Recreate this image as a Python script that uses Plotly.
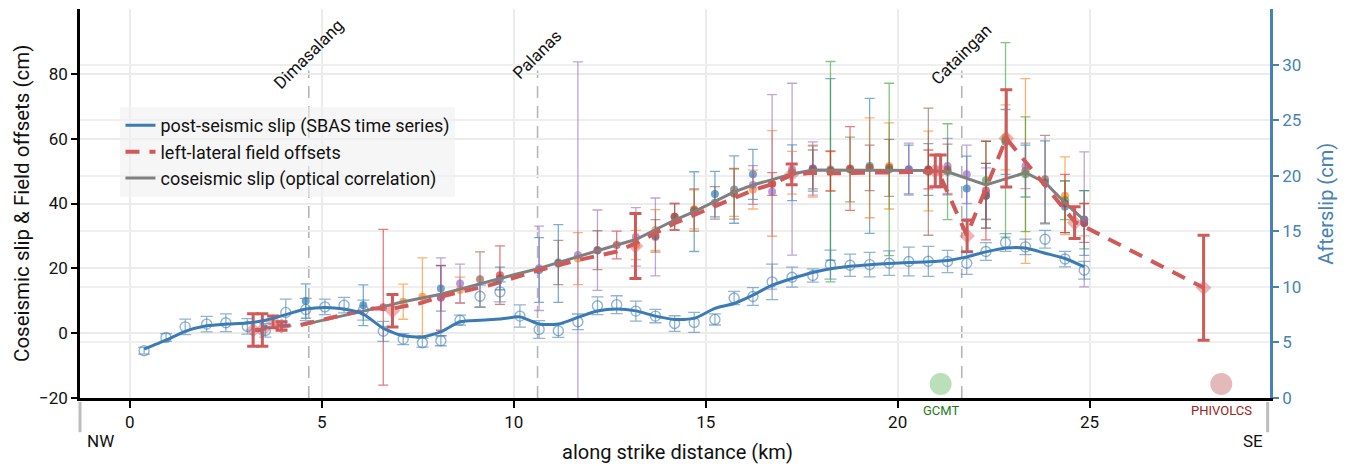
import plotly.graph_objects as go

# ---------------- data ----------------
# along-strike stations (km)
station_x = [0.37, 0.94, 1.44, 2.0, 2.5, 3.06, 3.53, 4.06, 4.58, 5.08, 5.58, 6.08, 6.6, 7.12,
             7.62, 8.1, 8.6, 9.12, 9.64, 10.16, 10.66, 11.16, 11.67, 12.18, 12.68, 13.18, 13.69,
             14.19, 14.7, 15.24, 15.74, 16.23, 16.73, 17.25, 17.79, 18.25, 18.76, 19.27, 19.78,
             20.29, 20.8, 21.3, 21.8, 22.3, 22.81, 23.33, 23.84, 24.36, 24.86]

# post-seismic slip (SBAS) points and error (cm, right axis)
afterslip_pts = [4.25, 5.45, 6.4, 6.65, 6.77, 6.44, 6.08, 7.7, 7.97, 8.2, 8.36, 7.9, 6.0, 5.3,
                 4.97, 5.15, 7.0, 9.16, 9.55, 7.37, 6.17, 6.05, 6.86, 8.3, 8.4, 7.82, 7.37,
                 6.7, 6.8, 7.07, 9.0, 9.13, 10.45, 10.87, 11.02, 12.0, 11.95, 12.0, 12.13,
                 12.28, 12.3, 12.28, 12.13, 13.18, 13.99, 13.6, 14.29, 12.5, 11.5]
afterslip_err = [0.3, 0.35, 0.7, 0.7, 0.8, 0.7, 0.6, 1.2, 1.0, 0.7, 0.7, 0.9, 0.9, 0.5,
                 0.4, 0.45, 0.45, 1.0, 0.9, 1.0, 0.8, 0.6, 0.7, 0.8, 0.8, 0.9, 0.6,
                 0.7, 0.9, 0.5, 0.6, 0.8, 1.6, 0.9, 0.6, 1.3, 1.0, 1.1, 1.1,
                 1.3, 1.35, 1.0, 1.0, 0.8, 0.8, 0.7, 0.8, 0.7, 0.8]
# smoothed post-seismic slip curve (cm, right axis)
afterslip_line = [4.4, 5.2, 6.0, 6.5, 6.65, 6.75, 7.0, 7.5, 8.0, 8.15, 8.0, 7.55, 6.26, 5.6,
                  5.5, 5.96, 6.86, 7.0, 7.1, 7.3, 6.65, 6.65, 7.25, 7.82, 8.0, 7.84, 7.37,
                  7.07, 7.16, 8.06, 8.5, 9.25, 10.15, 10.75, 11.29, 11.62, 11.86, 12.0, 12.1,
                  12.19, 12.25, 12.37, 12.7, 13.15, 13.5, 13.5, 13.03, 12.55, 11.8]

# coseismic slip (optical correlation), cm, from 4.58 km onward
coseis_x = station_x[8:]
coseis_line = [2.8, 4.1, 5.4, 6.8, 8.2, 9.7, 10.9, 12.0, 13.6, 15.3, 16.9, 18.5, 20.0, 21.8,
               23.6, 25.6, 27.2, 28.9, 31.8, 34.9, 37.5, 40.6, 43.6, 45.7, 47.4, 49.1, 50.3,
               50.3, 50.3, 50.3, 50.3, 50.3, 50.2, 49.8, 47.8, 45.7, 47.6, 49.5, 46.5, 40.2,
               34.9]

# individual optical-correlation profiles (tab10 colours)
p_blue_x = [4.58, 6.08, 8.1, 9.64, 10.66, 11.16, 14.7, 15.24, 15.74, 16.23, 17.25, 17.79, 18.25,
            19.27, 20.29, 20.8, 21.8, 22.3, 22.81, 23.33, 23.84, 24.36, 24.86]
p_blue_y = [9.9, 8.6, 13.8, 16.9, 19.5, 21.5, 37.5, 42.9, 44.3, 49.0, 49.5, 50.8, 50.5,
            51.6, 50.5, 50.5, 44.6, 42.4, 59.0, 50.0, 46.5, 39.0, 34.0]
p_blue_e = [5.3, 6.3, 7.0, 3.5, 10.0, 12.0, 12.3, 7.0, 10.4, 7.7, 8.6, 7.0, 28.0,
            20.8, 7.5, 8.0, 10.0, 10.0, 10.0, 8.0, 12.8, 8.0, 10.0]

p_orange_x = [7.12, 7.62, 8.6, 11.67, 13.18, 13.69, 14.7, 15.74, 16.23, 16.73, 17.25, 17.79,
              18.25, 19.27, 19.78, 20.8, 22.81, 23.33, 24.36, 24.86]
p_orange_y = [9.7, 11.2, 13.3, 23.0, 27.2, 31.8, 38.2, 43.3, 44.3, 46.2, 49.5, 50.0,
              50.0, 51.0, 51.6, 50.0, 60.4, 50.0, 42.4, 35.0]
p_orange_e = [5.4, 12.0, 4.0, 8.0, 4.5, 6.3, 6.0, 7.3, 6.0, 16.3, 6.6, 8.0,
              6.0, 15.4, 13.3, 12.3, 10.0, 28.5, 12.0, 5.0]

p_green_x = [18.25, 18.76, 19.78, 21.3, 22.3, 22.81, 23.33, 24.36, 24.86]
p_green_y = [49.8, 50.5, 50.5, 49.8, 47.2, 59.6, 49.0, 41.0, 35.0]
p_green_e = [34.0, 10.0, 26.6, 14.8, 12.0, 30.0, 17.7, 6.0, 9.0]

p_red_x = [6.6, 8.1, 9.64, 12.68, 14.19, 16.73, 18.25, 18.76, 20.8, 22.3, 24.36, 24.86]
p_red_y = [8.0, 10.9, 17.9, 27.2, 35.9, 46.0, 50.0, 50.8, 50.5, 44.0, 40.0, 34.0]
p_red_e = [24.0, 10.0, 9.0, 4.3, 4.0, 3.5, 6.2, 12.9, 6.0, 15.2, 9.0, 6.0]

p_purple_x = [8.1, 8.6, 10.66, 11.67, 12.18, 13.18, 13.69, 16.23, 16.73, 17.25, 17.79, 20.29,
              21.3, 21.8, 22.3, 23.33, 24.86]
p_purple_y = [11.2, 15.3, 20.0, 24.1, 25.6, 29.7, 29.7, 45.7, 43.6, 50.6, 50.8, 50.6,
              51.6, 49.0, 43.0, 51.6, 35.1]
p_purple_e = [12.0, 6.0, 13.0, 59.6, 12.4, 9.0, 12.0, 6.0, 30.0, 26.5, 8.2, 8.0,
              8.5, 9.0, 8.0, 7.0, 20.8]

p_brown_x = [9.12, 11.16, 12.18, 13.69, 14.19, 14.7, 15.24, 15.74, 17.79, 19.27, 19.78, 20.8,
             21.3, 22.3, 23.84]
p_brown_y = [16.6, 21.8, 25.6, 30.0, 35.9, 38.0, 40.2, 43.0, 50.5, 51.0, 51.0, 49.8,
             50.5, 42.4, 47.5]
p_brown_e = [8.5, 6.8, 6.0, 5.0, 4.2, 6.5, 5.0, 7.8, 6.0, 7.0, 8.8, 19.6,
             7.8, 10.0, 13.5]

# left-lateral field offsets: trend line and measured sites
field_line_x = [3.25, 3.43, 3.73, 3.95, 4.43, 4.95, 5.73, 6.34, 6.84, 7.55, 8.07, 8.6, 9.38,
                10.65, 11.66, 12.66, 13.17, 14.19, 15.2, 16.23, 16.73, 17.24, 17.75, 18.25,
                20.8, 21.05, 21.8, 22.83, 24.61, 27.97]
field_line_y = [1.0, 1.0, 3.0, 2.2, 2.5, 4.0, 6.1, 7.6, 7.6, 9.2, 11.2, 12.7, 14.8,
                19.4, 22.5, 25.1, 27.7, 33.9, 39.0, 44.1, 46.0, 48.8, 49.5, 49.3,
                49.8, 50.1, 30.2, 60.1, 34.4, 14.0]
field_x = [3.21, 3.45, 3.73, 3.95, 6.84, 13.17, 17.24, 20.98, 21.12, 21.81, 22.83, 24.61, 27.97]
field_y = [1.0, 1.0, 3.5, 2.2, 6.9, 26.9, 49.0, 50.1, 50.1, 30.0, 60.1, 34.1, 14.0]
field_e = [5.0, 5.0, 1.8, 1.3, 5.0, 10.0, 3.2, 4.9, 4.9, 4.9, 15.0, 4.9, 16.2]

# towns along the fault
town_names = ["Dimasalang", "Palanas", "Cataingan"]
town_x = [4.66, 10.62, 21.67]

# epicentres
epi_names = ["GCMT", "PHIVOLCS"]
epi_x = [21.12, 28.43]
epi_y = [-15.7, -15.7]

x_ticks = [0, 5, 10, 15, 20, 25]
y1_ticks = [-20, 0, 20, 40, 60, 80]
y2_ticks = [0, 5, 10, 15, 20, 25, 30]

# ---------------- figure ----------------
FONT = "Roboto, 'Noto Sans', sans-serif"
STEEL = "#4682b4"
RED = "#d05a5a"

fig = go.Figure()

profiles = [
    (p_blue_x, p_blue_y, p_blue_e, "31,119,180"),
    (p_orange_x, p_orange_y, p_orange_e, "255,127,14"),
    (p_green_x, p_green_y, p_green_e, "44,160,44"),
    (p_red_x, p_red_y, p_red_e, "214,39,40"),
    (p_purple_x, p_purple_y, p_purple_e, "148,103,189"),
    (p_brown_x, p_brown_y, p_brown_e, "140,86,75"),
]
for px, py, pe, rgb in profiles:
    fig.add_trace(go.Scatter(
        x=px, y=py, mode="markers", showlegend=False, hoverinfo="skip",
        marker=dict(size=8, color=f"rgba({rgb},0.65)"),
        error_y=dict(type="data", array=pe, visible=True, color=f"rgba({rgb},0.6)",
                     thickness=1.3, width=5),
    ))

fig.add_trace(go.Scatter(
    x=coseis_x, y=coseis_line, mode="lines", name="coseismic slip (optical correlation)",
    line=dict(color="#808080", width=3), legendrank=3,
))

fig.add_trace(go.Scatter(
    x=field_line_x, y=field_line_y, mode="lines", name="left-lateral field offsets",
    line=dict(color=RED, width=4, dash="14px,10px"), legendrank=2,
))
fig.add_trace(go.Scatter(
    x=field_x, y=field_y, mode="markers", showlegend=False,
    marker=dict(symbol="diamond", size=12, color="rgba(208,90,90,0.45)"),
    error_y=dict(type="data", array=field_e, visible=True, color=RED, thickness=3, width=6),
))

fig.add_trace(go.Scatter(
    x=epi_x, y=epi_y, mode="markers", showlegend=False,
    marker=dict(size=22, color=["rgba(44,160,44,0.33)", "rgba(178,60,60,0.36)"]),
))

fig.add_trace(go.Scatter(
    x=station_x, y=afterslip_pts, mode="markers", yaxis="y2", showlegend=False,
    marker=dict(symbol="circle-open", size=10, color="rgba(70,130,180,0.6)",
                line=dict(width=1.4)),
    error_y=dict(type="data", array=afterslip_err, visible=True,
                 color="rgba(70,130,180,0.6)", thickness=1.3, width=6),
))
fig.add_trace(go.Scatter(
    x=station_x, y=afterslip_line, mode="lines", yaxis="y2",
    name="post-seismic slip (SBAS time series)",
    line=dict(color="#3b7bb4", width=3, shape="spline", smoothing=0.6), legendrank=1,
))

shapes = []
annotations = []
for name, tx in zip(town_names, town_x):
    shapes.append(dict(type="line", xref="x", yref="y", x0=tx, x1=tx, y0=-20, y1=81,
                       line=dict(color="#b5b5b5", width=1.6, dash="12px,8px"), layer="below"))
    annotations.append(dict(x=tx, y=86, xref="x", yref="y", text=name, showarrow=False,
                            textangle=-45, xanchor="center", yanchor="middle",
                            font=dict(family=FONT, size=17, color="#111")))

epi_colors = ["#1f7a1f", "#9b2222"]
for name, ex, c in zip(epi_names, epi_x, epi_colors):
    annotations.append(dict(x=ex, y=-0.031, xref="x", yref="paper", text=name,
                            showarrow=False, xanchor="center", yanchor="middle",
                            font=dict(family=FONT, size=13, color=c)))

# offset bottom spine ends + NW / SE
for xp in [0.0, 0.998]:
    shapes.append(dict(type="line", xref="paper", yref="paper", x0=xp, x1=xp,
                       y0=-0.01, y1=-0.088, line=dict(color="#bdbdbd", width=3)))
annotations.append(dict(x=0.004, y=-0.08, xref="paper", yref="paper", text="NW",
                        showarrow=False, xanchor="left", yanchor="top",
                        font=dict(family=FONT, size=17, color="#111")))
annotations.append(dict(x=0.996, y=-0.08, xref="paper", yref="paper", text="SE",
                        showarrow=False, xanchor="right", yanchor="top",
                        font=dict(family=FONT, size=17, color="#111")))

# axis titles (placed as annotations for exact positions)
annotations.append(dict(x=-0.0487, y=0.499, xref="paper", yref="paper",
                        text="Coseismic slip & Field offsets (cm)", showarrow=False,
                        textangle=-90, xanchor="center", yanchor="middle",
                        font=dict(family=FONT, size=20.5, color="#111")))
annotations.append(dict(x=1.047, y=0.499, xref="paper", yref="paper",
                        text="Afterslip (cm)", showarrow=False,
                        textangle=-90, xanchor="center", yanchor="middle",
                        font=dict(family=FONT, size=20, color=STEEL)))
annotations.append(dict(x=0.502, y=-0.139, xref="paper", yref="paper",
                        text="along strike distance (km)", showarrow=False,
                        xanchor="center", yanchor="middle",
                        font=dict(family=FONT, size=20, color="#111")))

# the page adds an 8px body margin, so the figure is sized/margined to compensate
fig.update_layout(
    width=1340, height=458,
    margin=dict(l=72, r=78, t=1, b=68, autoexpand=False),
    paper_bgcolor="white", plot_bgcolor="white",
    font=dict(family=FONT, size=16, color="#111"),
    showlegend=True,
    legend=dict(x=0.034, y=0.748, xanchor="left", yanchor="top",
                bgcolor="rgba(240,240,240,0.6)", borderwidth=0,
                font=dict(family=FONT, size=18, color="#111"), tracegroupgap=0),
    xaxis=dict(range=[-1.3, 29.7], tickvals=x_ticks, showgrid=True, gridcolor="#ebebeb",
               gridwidth=1.5, zeroline=False, showline=True, linecolor="black", linewidth=2.5,
               ticks="outside", ticklen=7, tickwidth=1.5, tickcolor="black", automargin=False,
               tickfont=dict(family=FONT, size=17)),
    yaxis=dict(range=[-20, 100], tickvals=y1_ticks, showgrid=True, gridcolor="#ebebeb",
               gridwidth=1.5, zeroline=False, showline=True, linecolor="black", linewidth=2.5,
               ticks="outside", ticklen=6, tickwidth=1.5, tickcolor="black", automargin=False,
               ticktext=["\u221220", "0", "20", "40", "60", "80"],
               tickfont=dict(family=FONT, size=17)),
    yaxis2=dict(range=[0, 35], tickvals=y2_ticks, overlaying="y", side="right",
                showgrid=True, gridcolor="#efefef", gridwidth=1.5, zeroline=False,
                showline=True, linecolor=STEEL, linewidth=2.5, automargin=False,
                ticks="outside", ticklen=6, tickwidth=1.5, tickcolor=STEEL,
                tickfont=dict(family=FONT, size=17, color=STEEL)),
    shapes=shapes,
    annotations=annotations,
)

fig.write_html("out.html")
